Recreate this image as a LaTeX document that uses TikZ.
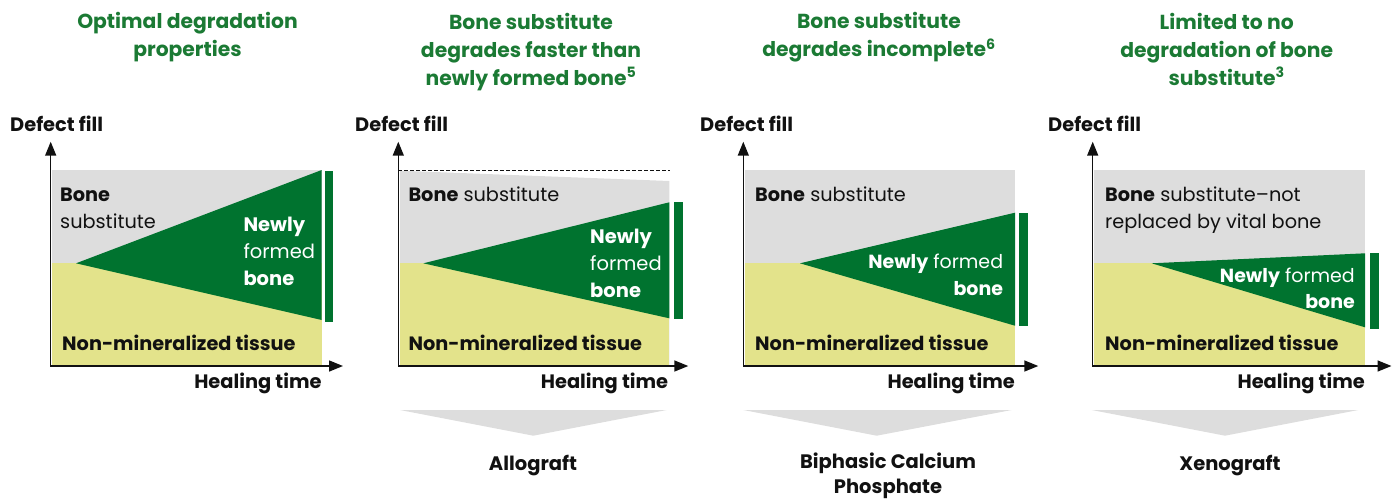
\documentclass[tikz,border=0pt]{standalone}
\usepackage{fontspec}
\setmainfont{Poppins}
\usetikzlibrary{arrows.meta,positioning}
\definecolor{Leaf}{HTML}{00732F}
\definecolor{TitleGreen}{HTML}{1B7A34}
\definecolor{Ash}{HTML}{DDDDDD}
\definecolor{Straw}{HTML}{E3E38B}
\definecolor{Ink}{HTML}{111111}

\begin{document}
\begin{tikzpicture}[
    x=1pt,y=-1pt,
    title/.style={text=TitleGreen,font=\fontsize{20.3}{28}\selectfont\bfseries,
      align=center,anchor=base,inner sep=0pt},
    ylab/.style={text=Ink,font=\fontsize{19.4}{24}\selectfont\bfseries,anchor=base west,inner sep=0pt},
    xlab/.style={ylab,anchor=base east},
    txt/.style={text=Ink,font=\fontsize{19.3}{26.5}\selectfont,align=left,anchor=base west,inner sep=0pt},
    newtxt/.style={txt,text=white,font=\fontsize{19.5}{27}\selectfont},
    graft/.style={text=Ink,font=\fontsize{19.5}{25}\selectfont\bfseries,align=center,anchor=base,inner sep=0pt},
    axis/.style={{Triangle[length=14pt,width=11pt]}-{Triangle[length=14pt,width=11pt]},line width=1.5pt,draw=Ink}
]
\useasboundingbox (0,0) rectangle (1393,499);

% titles (base = last line)
\node[title] (t1) at (187.5,56.7) {Optimal degradation\\properties};
\node[title] (t2) at (531,85) {Bone substitute\\degrades faster than\\newly formed bone\textsuperscript{5}};
\node[title] (t3) at (879,56.7) {Bone substitute\\degrades incomplete\textsuperscript{6}};
\node[title] (t4) at (1226.7,85) {Limited to no\\degradation of bone\\substitute\textsuperscript{3}};

% panel 1: optimal
\fill[Ash] (51.7,170) rectangle (321.7,366);
\fill[Straw] (51.7,263.3) rectangle (321.7,366);
\fill[Leaf] (76,263.3) -- (321.7,170) -- (321.7,320) -- cycle;
\fill[Leaf] (325,170.7) rectangle (333.3,321.7);
\coordinate (o1) at (50.7,366);
\coordinate (yt1) at (50.7,141.7);
\coordinate (xt1) at (343,366);
\draw[axis] (yt1) -- (o1) -- (xt1);
\node[ylab] (yl1) at (10,131.7) {Defect fill};
\node[xlab] (xl1) at (321.7,388) {Healing time};
\node[txt] (bs1) at (60,228) {\textbf{Bone}\\substitute};
\node[newtxt] (nb1) at (243.3,285) {\textbf{Newly}\\formed\\\textbf{bone}};
\node[txt] (nm1) at (62,350) {\textbf{Non-mineralized tissue}};

% panel 2: allograft
\fill[Ash] (400,170.7) -- (669.3,181) -- (669.3,366) -- (400,366) -- cycle;
\fill[Straw] (400,263.3) rectangle (669.3,366);
\fill[Leaf] (423.3,263.3) -- (669.3,202.3) -- (669.3,318.3) -- cycle;
\fill[Leaf] (674.3,202.3) rectangle (682.7,319);
\coordinate (o2) at (398.3,366);
\coordinate (yt2) at (398.3,141.7);
\coordinate (xt2) at (688.3,366);
\coordinate (d2) at (398.3,170.7);
\coordinate (e2) at (670,170.7);
\draw[axis] (yt2) -- (o2) -- (xt2);
\draw[Ink,line width=0.8pt,dash pattern=on 3.5pt off 2.5pt] (d2) -- (e2);
\node[ylab] (yl2) at (355,131.7) {Defect fill};
\node[xlab] (xl2) at (668.3,388.3) {Healing time};
\node[txt] (bs2) at (408.3,201.7) {\textbf{Bone} substitute};
\node[newtxt] (nb2) at (590,297.7) {\textbf{Newly}\\formed\\\textbf{bone}};
\node[txt] (nm2) at (408.3,350.7) {\textbf{Non-mineralized tissue}};
\fill[Ash] (400,410) -- (666.7,410) -- (533.3,435.7) -- cycle;
\node[graft] (g2) at (533,470) {Allograft};

% panel 3: biphasic calcium phosphate
\fill[Ash] (745,170) rectangle (1015,366);
\fill[Straw] (745,263.3) rectangle (1015,366);
\fill[Leaf] (800,263.3) -- (1015,212.7) -- (1015,325.7) -- cycle;
\fill[Leaf] (1019.3,212.7) rectangle (1027.7,326);
\coordinate (o3) at (743.3,366);
\coordinate (yt3) at (743.3,141.7);
\coordinate (xt3) at (1038.3,366);
\draw[axis] (yt3) -- (o3) -- (xt3);
\node[ylab] (yl3) at (700,131.7) {Defect fill};
\node[xlab] (xl3) at (1015,388) {Healing time};
\node[txt] (bs3) at (755,201.7) {\textbf{Bone} substitute};
\node[newtxt,font=\fontsize{19}{26.7}\selectfont,align=right,anchor=base east] (nb3) at (1003.3,295) {\textbf{Newly} formed\\\textbf{bone}};
\node[txt] (nm3) at (755,350.7) {\textbf{Non-mineralized tissue}};
\fill[Ash] (743.3,410) -- (1011.7,410) -- (876.7,435.7) -- cycle;
\node[graft] (g3) at (888,493.3) {Biphasic Calcium\\Phosphate};

% panel 4: xenograft
\fill[Ash] (1094,170) rectangle (1365,366);
\fill[Straw] (1094,263.3) rectangle (1365,366);
\fill[Leaf] (1151.7,263.3) -- (1365,253.3) -- (1365,327.3) -- cycle;
\fill[Leaf] (1370,253.3) rectangle (1379,329);
\coordinate (o4) at (1092.7,366);
\coordinate (yt4) at (1092.7,141.7);
\coordinate (xt4) at (1391.5,366);
\draw[axis] (yt4) -- (o4) -- (xt4);
\node[ylab] (yl4) at (1048,131.7) {Defect fill};
\node[xlab] (xl4) at (1365,388) {Healing time};
\node[txt] (bs4) at (1105,228.3) {\textbf{Bone} substitute–not\\replaced by vital bone};
\node[newtxt,font=\fontsize{19}{25.6}\selectfont,align=right,anchor=base east] (nb4) at (1355,308.3) {\textbf{Newly} formed\\\textbf{bone}};
\node[txt] (nm4) at (1105,350.7) {\textbf{Non-mineralized tissue}};
\fill[Ash] (1091.7,410) -- (1358.3,410) -- (1225,435.7) -- cycle;
\node[graft] (g4) at (1230,470) {Xenograft};
\end{tikzpicture}
\end{document}
